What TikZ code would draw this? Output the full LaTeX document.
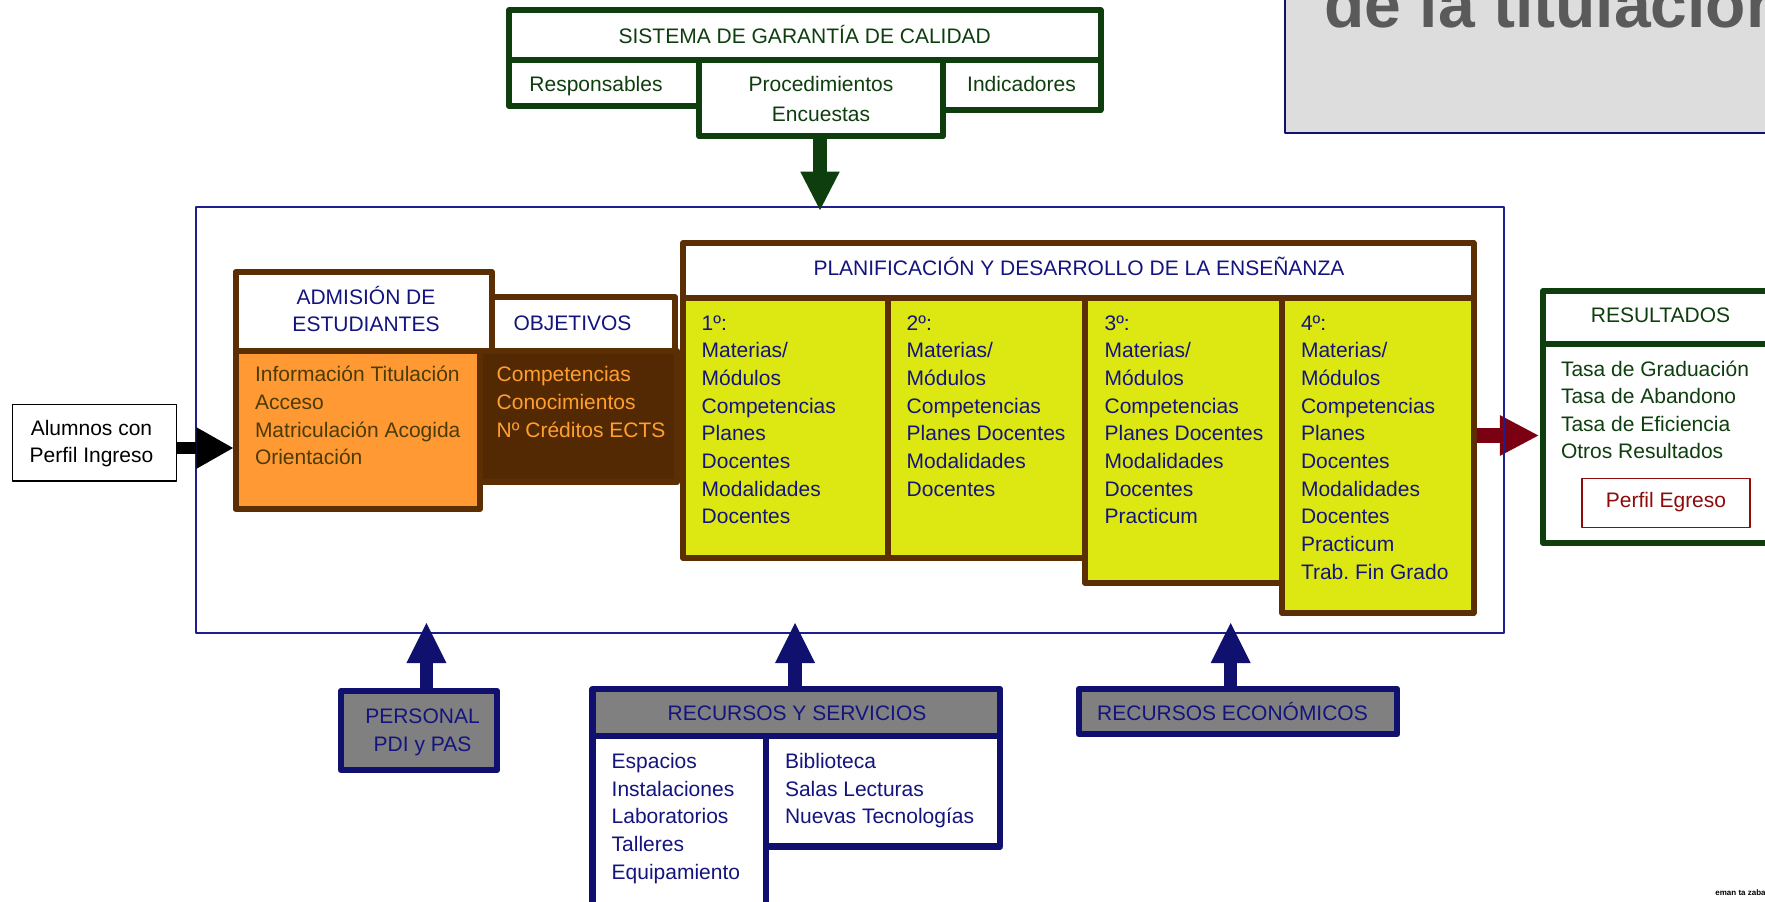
\documentclass[tikz,border=0pt]{standalone}
\usepackage{fontspec}
\setmainfont{Liberation Sans}
\usetikzlibrary{arrows.meta,fit}
\pgfdeclarelayer{bg}
\pgfsetlayers{bg,main}
\frenchspacing
\definecolor{sgcgreen}{HTML}{0E3E0E}
\definecolor{brownB}{HTML}{5C2E04}
\definecolor{navyB}{HTML}{10106E}
\definecolor{navyT}{HTML}{14147F}
\definecolor{orangeF}{HTML}{FF9933}
\definecolor{objF}{HTML}{532904}
\definecolor{yellowF}{HTML}{DDE812}
\definecolor{grayF}{HTML}{808080}
\definecolor{titleF}{HTML}{DDDDDD}
\definecolor{titleT}{HTML}{5A5A5A}
\definecolor{oliveT}{HTML}{4D3B06}
\definecolor{objT}{HTML}{FF9F2F}
\definecolor{darkredT}{HTML}{8F0A0A}
\definecolor{arrowred}{HTML}{7A0012}
\definecolor{frameblue}{HTML}{1E1E8C}
\newcommand\bodyfont{\fontsize{10.5}{13.85}\selectfont}
\newcommand\topstrut{\rule{0pt}{9.7pt}}
\begin{document}
\begin{tikzpicture}[x=0.5pt,y=-0.5pt,
  box/.style={inner sep=0pt, outer sep=0pt, line width=3pt, line join=round},
  sgcbox/.style={box, draw=sgcgreen, fill=white},
  brbox/.style={box, draw=brownB},
  resbox/.style={box, draw=sgcgreen, fill=white},
  nvbox/.style={box, line width=3.3pt, draw=navyB},
  titlebox/.style={box, line width=1pt, draw=navyB, fill=titleF},
  framebox/.style={box, line width=0.9pt, draw=frameblue},
  albox/.style={box, line width=0.7pt, draw=black, fill=white},
  perfbox/.style={box, line width=0.8pt, draw=darkredT, fill=white},
  txt/.style={inner sep=0pt, outer sep=0pt, font=\bodyfont},
  sgctxt/.style={txt, text=sgcgreen},
  navytxt/.style={txt, text=navyT},
  titletxt/.style={inner sep=0pt, text=titleT, font=\fontsize{33}{40}\selectfont\bfseries},
  bigarrow/.style={line width=6.9pt, -{Triangle[width=19.75pt,length=19.2pt,line width=0pt]}},
  sgcarrow/.style={bigarrow, draw=sgcgreen, fill=sgcgreen},
  blackarrow/.style={line width=6.15pt, draw=black, -{Triangle[width=20.8pt,length=18.3pt,line width=0pt]}},
  redarrow/.style={line width=7.5pt, draw=arrowred, -{Triangle[width=20.4pt,length=19.2pt,line width=0pt]}},
  navyarrow/.style={line width=6.7pt, draw=navyB, -{Triangle[width=20pt,length=20pt,line width=0pt]}}
]
\useasboundingbox (0,0) rectangle (1765,901);
\clip (0,0) rectangle (1765,901);

% top right title
\node[titlebox, fit={(1285,-20)(1800,133.3)}] (title) {};
\node[titletxt, anchor=base west] (titlet) at (1324,27) {de la titulación};

% SGC
\node[sgcbox, fit={(509,10.3)(1100.5,59.7)}] (sgcT) {};
\node[sgcbox, fit={(509,59.7)(699,106)}] (sgcR) {};
\node[sgcbox, fit={(943,59.7)(1100.5,110)}] (sgcI) {};
\node[sgcbox, fit={(699,59.7)(943,136)}] (sgcP) {};
\node[sgctxt, anchor=base] (sgcTt) at (804.75,43.3) {SISTEMA DE GARANTÍA DE CALIDAD};
\node[sgctxt, anchor=base] (sgcRt) at (596,91.7) {Responsables};
\node[sgctxt, anchor=base] (sgcIt) at (1021.5,91.7) {Indicadores};
\node[sgctxt, anchor=north, align=center, font=\fontsize{10.5}{15}\selectfont] (sgcPt) at (821,72.3) {\topstrut Procedimientos\\Encuestas};

% frame (under everything)
\node[framebox, fit={(196,207)(1504,633)}] (frame) {};

% alumnos
\node[albox, fit={(12.5,404.3)(176.3,481)}] (alumnos) {};
\node[txt, anchor=north, align=center] (alumnost) at (91.5,415.6) {\topstrut Alumnos con\\Perfil Ingreso};
\coordinate (ainTip) at (233,448);
\draw[blackarrow] (alumnos.east |- ainTip) -- (ainTip);

% admision / objetivos
\node[brbox, fill=objF, fit={(480,351)(677,482)}] (objB) {};
\node[brbox, fill=white, fit={(492,297)(675,351)}] (objH) {};
\node[brbox, fill=white, fit={(235.5,272)(492,351)}] (admH) {};
\node[brbox, fill=orangeF, fit={(235.5,351)(480,509)}] (admB) {};
\node[navytxt, anchor=north, align=center] (admHt) at (366,284.6) {\topstrut ADMISIÓN DE\\ESTUDIANTES};
\node[navytxt, anchor=base] (objHt) at (572.5,330) {OBJETIVOS};
\node[txt, text=oliveT, anchor=north west, align=left] (admBt) at (255,362.3) {\topstrut Información Titulación\\Acceso\\Matriculación Acogida\\Orientación};
\node[txt, text=objT, anchor=north west, align=left] (objBt) at (496.7,362.3) {\topstrut Competencias\\Conocimientos\\Nº Créditos ECTS};

% planificacion
\node[brbox, fill=white, fit={(683,243)(1473.5,297.5)}] (planH) {};
\node[brbox, fill=yellowF, fit={(683,297.5)(888,558)}] (c1) {};
\node[brbox, fill=yellowF, fit={(888,297.5)(1085,558)}] (c2) {};
\node[brbox, fill=yellowF, fit={(1085,297.5)(1282,583)}] (c3) {};
\node[brbox, fill=yellowF, fit={(1282,297.5)(1473.5,613)}] (c4) {};
\node[navytxt, anchor=base] (planHt) at (1079,275.7) {PLANIFICACIÓN Y DESARROLLO DE LA ENSEÑANZA};
\node[navytxt, anchor=north west, align=left] (c1t) at (701.7,310.6) {\topstrut 1º:\\Materias/\\Módulos\\Competencias\\Planes\\Docentes\\Modalidades\\Docentes};
\node[navytxt, anchor=north west, align=left] (c2t) at (906.7,310.6) {\topstrut 2º:\\Materias/\\Módulos\\Competencias\\Planes Docentes\\Modalidades\\Docentes};
\node[navytxt, anchor=north west, align=left] (c3t) at (1104.6,310.6) {\topstrut 3º:\\Materias/\\Módulos\\Competencias\\Planes Docentes\\Modalidades\\Docentes\\Practicum};
\node[navytxt, anchor=north west, align=left] (c4t) at (1301,310.6) {\topstrut 4º:\\Materias/\\Módulos\\Competencias\\Planes\\Docentes\\Modalidades\\Docentes\\Practicum\\Trab. Fin Grado};

% red arrow to results (under boxes)
\coordinate (resTip) at (1538.3,435.5);
\begin{pgfonlayer}{bg}
\draw[redarrow] (c4.east |- resTip) -- (resTip);
\end{pgfonlayer}

% resultados
\node[resbox, fit={(1543,291)(1800,344)}] (resH) {};
\node[resbox, fit={(1543,344)(1800,543)}] (resB) {};
\node[sgctxt, anchor=base] (resHt) at (1660.5,322.3) {RESULTADOS};
\node[sgctxt, anchor=north west, align=left, font=\fontsize{10.5}{13.75}\selectfont] (resBt) at (1561,356.6) {\topstrut Tasa de Graduación\\Tasa de Abandono\\Tasa de Eficiencia\\Otros Resultados};
\node[perfbox, fit={(1582,478.3)(1750,527.3)}] (perfil) {};
\node[txt, text=darkredT, anchor=base] (perfilt) at (1666,507) {Perfil Egreso};

% SGC arrow
\coordinate (sgcTip) at (820,210);
\draw[sgcarrow] (sgcTip |- sgcP.south) -- (sgcTip);

% bottom resources
\node[nvbox, fill=grayF, fit={(341,691)(497,770)}] (personal) {};
\node[navytxt, anchor=north, align=center, font=\fontsize{10.5}{14.2}\selectfont] (personalt) at (422.5,703.9) {\topstrut PERSONAL\\PDI y PAS};
\node[nvbox, fill=white, fit={(592.7,736)(766,920)}] (rrL) {};
\node[nvbox, fill=white, fit={(766,736)(1000,846.7)}] (rrR) {};
\node[nvbox, fill=grayF, fit={(592.7,689)(1000,736)}] (rrH) {};
\node[navytxt, anchor=base] (rrHt) at (797,720.7) {RECURSOS Y SERVICIOS};
\node[navytxt, anchor=north west, align=left] (rrLt) at (611.7,748.9) {\topstrut Espacios\\Instalaciones\\Laboratorios\\Talleres\\Equipamiento};
\node[navytxt, anchor=north west, align=left] (rrRt) at (785,748.9) {\topstrut Biblioteca\\Salas Lecturas\\Nuevas Tecnologías};
\node[nvbox, fill=grayF, fit={(1079,689)(1397,734)}] (recE) {};
\node[navytxt, anchor=base] (recEt) at (1232.5,720.7) {RECURSOS ECONÓMICOS};

\coordinate (tipP) at (426.4,623);
\coordinate (tipR) at (795,623);
\coordinate (tipE) at (1230.7,623);
\draw[navyarrow] (tipP |- personal.north) -- (tipP);
\draw[navyarrow] (tipR |- rrH.north) -- (tipR);
\draw[navyarrow] (tipE |- recE.north) -- (tipE);

% tiny footer
\node[inner sep=0pt, anchor=base west, font=\fontsize{4}{5}\selectfont\bfseries] (foot) at (1715,895) {eman ta zaba};
\end{tikzpicture}
\end{document}
